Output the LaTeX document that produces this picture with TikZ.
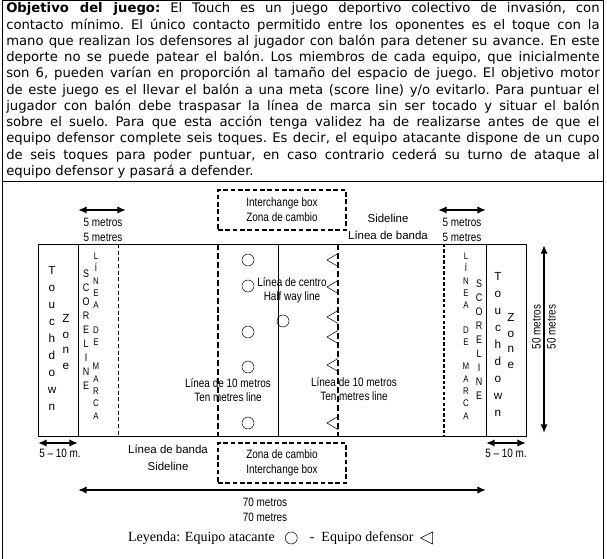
\documentclass[tikz,border=0pt]{standalone}
\usepackage{fontspec}
\setmainfont{DejaVu Sans}
\newfontfamily\narrowfont[FakeStretch=0.82]{Liberation Sans}
\newfontfamily\arialfont{Liberation Sans}
\newfontfamily\timesfont{Liberation Serif}
\usetikzlibrary{arrows.meta,positioning}
\newcommand{\jline}[1]{\makebox[445pt][s]{#1}}
\tikzset{
  dimarrow/.style={{Latex[length=6.5pt,width=5.5pt]}-{Latex[length=6.5pt,width=5.5pt]}, line width=1.5pt},
  lab/.style={font=\narrowfont\fontsize{9.1}{10.8}\selectfont, align=center, inner sep=0pt},
  banda/.style={font=\arialfont\fontsize{8.6}{12.75}\selectfont, align=center, inner sep=0pt},
  tenline/.style={line width=1.6pt, dash pattern=on 4.5pt off 2.2pt},
  boxline/.style={line width=1.1pt, dash pattern=on 3.5pt off 2pt},
  attacker/.style={circle, draw, minimum size=9pt, inner sep=0pt},
}
\begin{document}
\begin{tikzpicture}[x=0.75pt,y=-0.75pt]
  \useasboundingbox (0,0) rectangle (607,559);
  % frame and text
  \draw (2.5,559) -- (2.5,0.5) -- (603.5,0.5) -- (603.5,559);
  \draw (2.5,181) -- (603.5,181);
  \node[anchor=north west, inner sep=0pt, text width=445pt, align=justify,
        font=\fontsize{9.9}{12.2}\selectfont\frenchspacing] (objetivo) at (6,2) {%
  \jline{\textbf{Objetivo del juego:} El Touch es un juego deportivo colectivo de invasión, con}\\
  \jline{contacto mínimo. El único contacto permitido entre los oponentes es el toque con la}\\
  \jline{mano que realizan los defensores al jugador con balón para detener su avance. En este}\\
  \jline{deporte no se puede patear el balón. Los miembros de cada equipo, que inicialmente}\\
  \jline{son 6, pueden varían en proporción al tamaño del espacio de juego. El objetivo motor}\\
  \jline{de este juego es el llevar el balón a una meta (score line) y/o evitarlo. Para puntuar el}\\
  \jline{jugador con balón debe traspasar la línea de marca sin ser tocado y situar el balón}\\
  \jline{sobre el suelo. Para que esta acción tenga validez ha de realizarse antes de que el}\\
  \jline{equipo defensor complete seis toques. Es decir, el equipo atacante dispone de un cupo}\\
  \jline{de seis toques para poder puntuar, en caso contrario cederá su turno de ataque al}\\
  equipo defensor y pasará a defender.};

  % field
  \def\ft{244} \def\fb{436}
  \coordinate (fNW) at (38,\ft);
  \coordinate (fSE) at (526,\fb);
  \draw (fNW) rectangle (fSE);
  \foreach \x in {78,278,486} \draw (\x,\ft) -- (\x,\fb);
  \draw[dash pattern=on 3pt off 2pt] (118,\ft) -- (118,\fb);
  \draw[line width=1.4pt, dash pattern=on 2.5pt off 1.6pt] (444,\ft) -- (444,\fb);
  \foreach \x in {218,338} \draw[tenline] (\x,\ft) -- (\x,\fb);

  % players
  \foreach \y [count=\i] in {260,286,332,367,423}
    \node[attacker] (a\i) at (248,\y) {};
  \node[attacker] (a6) at (283,321) {};
  \foreach \y in {260,287,317,337,365,423}
    \draw (338,\y-6.5) -- (327,\y) -- (338,\y+6.5);

  % labels on the field
  \node[lab] (centro) at (292,290) {Línea de centro\\Half way line};
  \node[lab] (diezL) at (228,390) {Línea de 10 metros\\Ten metres line};
  \node[lab] (diezR) at (354,389) {Línea de 10 metros\\Ten metres line};
  \node[font=\arialfont\fontsize{8.8}{12.75}\selectfont, align=center, inner sep=0pt] (tdL) at (52,338) {T\\o\\u\\c\\h\\d\\o\\w\\n};
  \node[font=\arialfont\fontsize{8.8}{11.8}\selectfont, align=center, inner sep=0pt] (znL) at (66,342) {Z\\o\\n\\e};
  \node[font=\narrowfont\fontsize{8.2}{10.5}\selectfont, align=center, inner sep=0pt] (scL) at (86,330) {S\\C\\O\\R\\E\\L\\I\\N\\E};
  \node[font=\narrowfont\fontsize{7.2}{9.2}\selectfont, align=center, inner sep=0pt] (lmL) at (96,336) {L\\Í\\N\\E\\A\\~\\D\\E\\~\\M\\A\\R\\C\\A};
  \node[font=\narrowfont\fontsize{7.2}{9.2}\selectfont, align=center, inner sep=0pt] (lmR) at (466,336) {L\\Í\\N\\E\\A\\~\\D\\E\\~\\M\\A\\R\\C\\A};
  \node[font=\narrowfont\fontsize{8.2}{10.5}\selectfont, align=center, inner sep=0pt] (scR) at (479,340) {S\\C\\O\\R\\E\\L\\I\\N\\E};
  \node[font=\arialfont\fontsize{8.8}{12.75}\selectfont, align=center, inner sep=0pt] (tdR) at (498,344) {T\\o\\u\\c\\h\\d\\o\\w\\n};
  \node[font=\arialfont\fontsize{8.8}{11.8}\selectfont, align=center, inner sep=0pt] (znR) at (511,341) {Z\\o\\n\\e};

  % interchange boxes and sidelines
  \node[lab, draw, boxline, minimum width=96pt, minimum height=30pt] (boxT) at (282,210)
    {Interchange box\\[0.6pt]Zona de cambio};
  \node[lab, draw, boxline, minimum width=96pt, minimum height=30pt] (boxB) at (282,463)
    {Zona de cambio\\[0.6pt]Interchange box};
  \node[banda] (bandaT) at (388,227) {Sideline\\Línea de banda};
  \node[banda] (bandaB) at (168,458) {Línea de banda\\Sideline};

  % measures
  \coordinate (m5La) at (78,210);  \coordinate (m5Lb) at (126,210);
  \coordinate (m5Ra) at (438,210); \coordinate (m5Rb) at (486,210);
  \draw[dimarrow] (m5La) -- (m5Lb);
  \draw[dimarrow] (m5Ra) -- (m5Rb);
  \node[lab] (cinco1) at (103,230) {5 metros\\5 metres};
  \node[lab] (cinco2) at (462,230) {5 metros\\5 metres};
  \coordinate (tdLa) at (38,443);  \coordinate (tdLb) at (78,443);
  \coordinate (tdRa) at (486,443); \coordinate (tdRb) at (526,443);
  \draw[dimarrow] (tdLa) -- (tdLb);
  \draw[dimarrow] (tdRa) -- (tdRb);
  \node[lab] (zona1) at (60,453) {5 – 10 m.};
  \node[lab] (zona2) at (506,453) {5 – 10 m.};
  \coordinate (largoA) at (78,490); \coordinate (largoB) at (486,490);
  \draw[dimarrow] (largoA) -- (largoB);
  \node[lab] (largo) at (265,510) {70 metros\\70 metres};
  \coordinate (anchoA) at (544,245); \coordinate (anchoB) at (544,433);
  \draw[dimarrow] (anchoA) -- (anchoB);
  \node[lab, rotate=90, font=\narrowfont\fontsize{9.1}{11.3}\selectfont] (ancho) at (544,327) {50 metros\\50 metres};

  % legend
  \node[font=\timesfont\fontsize{10.5}{12}\selectfont, anchor=east, inner sep=0pt] (leyA) at (275,538) {Leyenda: Equipo atacante};
  \node[attacker, right=7.5pt of leyA] (leyC) {};
  \node[font=\timesfont\fontsize{10.5}{12}\selectfont, inner sep=0pt, right=9pt of leyC] (leyB) {-\ \ Equipo defensor};
  \coordinate[right=5pt of leyB] (leyT);
  \draw (leyT) ++(9pt,4.5pt) -- ++(-9pt,-4.5pt) -- ++(9pt,-4.5pt) -- cycle;
\end{tikzpicture}
\end{document}
